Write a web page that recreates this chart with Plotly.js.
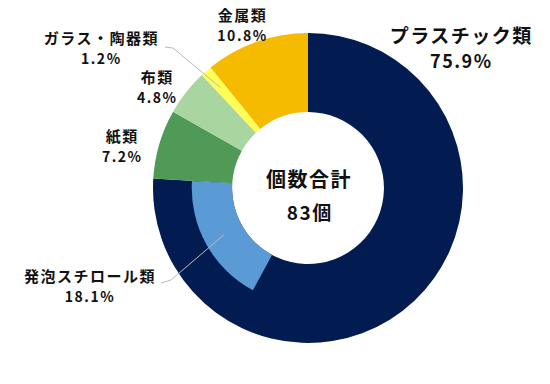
<!DOCTYPE html>
<html>
<head>
<meta charset="utf-8">
<script src="https://cdn.plot.ly/plotly-3.0.1.min.js"></script>
<style>
html,body{margin:0;padding:0;background:#fff;}
#chart{width:550px;height:384px;}
#chart .annotation-text{letter-spacing:1.5px;}
</style>
</head>
<body>
<div id="chart"></div>
<script>
// ---- data ----
const categories = ['プラスチック類', '紙類', '布類', 'ガラス・陶器類', '金属類'];
const shares = [75.9, 7.2, 4.8, 1.2, 10.8];
const colors = ['#021c52', '#4f9a57', '#a9d6a0', '#ffff55', '#f5bb00'];
const subCategory = '発泡スチロール類';
const subShare = 18.1;
const subColor = '#5b9bd5';
const totalLabel = '個数合計';
const totalCount = 83;
const totalUnit = '個';

// ---- geometry (pixels) ----
const W = 550, H = 384;
const cx = 308, cy = 188, R = 155;
const holeFrac = 0.49;
const innerFrac = 0.75;
const px = x => x / W;
const py = y => 1 - y / H;

const total = shares.reduce((a, b) => a + b, 0);

const outer = {
  type: 'pie',
  values: shares,
  labels: categories,
  marker: {colors: colors, line: {width: 0}},
  sort: false,
  direction: 'clockwise',
  rotation: 0,
  hole: holeFrac,
  textinfo: 'none',
  hoverinfo: 'label+percent',
  showlegend: false,
  domain: {x: [px(cx - R), px(cx + R)], y: [py(cy + R), py(cy - R)]}
};

const Ri = R * innerFrac;
const inner = {
  type: 'pie',
  values: [shares[0] - subShare, subShare, total - shares[0]],
  labels: ['a', subCategory, 'b'],
  marker: {colors: ['rgba(0,0,0,0)', subColor, 'rgba(0,0,0,0)'], line: {width: 0}},
  sort: false,
  direction: 'clockwise',
  rotation: 0,
  hole: holeFrac / innerFrac,
  textinfo: 'none',
  hoverinfo: 'skip',
  showlegend: false,
  domain: {x: [px(cx - Ri), px(cx + Ri)], y: [py(cy + Ri), py(cy - Ri)]}
};

// angle helpers (degrees clockwise from 12 o'clock)
function startAngle(i) { let s = 0; for (let k = 0; k < i; k++) s += shares[k]; return s / total * 360; }
function midAngle(i) { return startAngle(i) + shares[i] / total * 180; }
function pt(angDeg, r) {
  const a = angDeg * Math.PI / 180;
  return [cx + r * Math.sin(a), cy - r * Math.cos(a)];
}

const fontName = '"Noto Sans CJK JP", "Noto Sans", sans-serif';
const labelPos = [
  {x: 461, y: 47, size: 19},   // plastic
  {x: 122, y: 146, size: 15},  // paper
  {x: 157, y: 86, size: 15},   // cloth
  {x: 101, y: 47, size: 15},   // glass
  {x: 242, y: 24, size: 15}    // metal
];

const annotations = [];
function addText(text, x, y, size) {
  annotations.push({
    text: text, x: px(x), y: py(y), xref: 'paper', yref: 'paper',
    xanchor: 'center', yanchor: 'middle', showarrow: false,
    font: {family: fontName, size: size, color: '#111'}
  });
}
function twoLine(name, pct, size) {
  return '<b>' + name + '</b><br><b><span style="font-size:' + (size - 1) + 'px">' + pct.toFixed(1) + '%</span></b>';
}
categories.forEach((c, i) => {
  const p = labelPos[i];
  addText(twoLine(c, shares[i], p.size), p.x, p.y, p.size);
});
addText(twoLine(subCategory, subShare, 15), 90, 285, 15);
addText('<b>' + totalLabel + '</b>', cx + 1, 178, 20);
addText('<b>' + totalCount + totalUnit + '</b>', cx + 1, 211, 19);

// leader lines
const gEnd = pt(midAngle(3), R * 0.86);
const subMid = startAngle(1) - subShare / total * 180;
const sEnd = pt(subMid, R * 0.62);
const shapes = [
  {type: 'path', xref: 'paper', yref: 'paper',
   path: `M ${px(165)} ${py(47)} L ${px(173)} ${py(48)} L ${px(gEnd[0])} ${py(gEnd[1])}`,
   line: {color: '#b8b8b8', width: 1}},
  {type: 'path', xref: 'paper', yref: 'paper',
   path: `M ${px(161)} ${py(283)} L ${px(171)} ${py(280)} L ${px(sEnd[0])} ${py(sEnd[1])}`,
   line: {color: '#b8b8b8', width: 1}}
];

const layout = {
  width: W, height: H,
  margin: {l: 0, r: 0, t: 0, b: 0},
  paper_bgcolor: '#fff',
  plot_bgcolor: '#fff',
  showlegend: false,
  annotations: annotations,
  shapes: shapes
};

Plotly.newPlot('chart', [outer, inner], layout, {displayModeBar: false, staticPlot: true});
</script>
</body>
</html>
